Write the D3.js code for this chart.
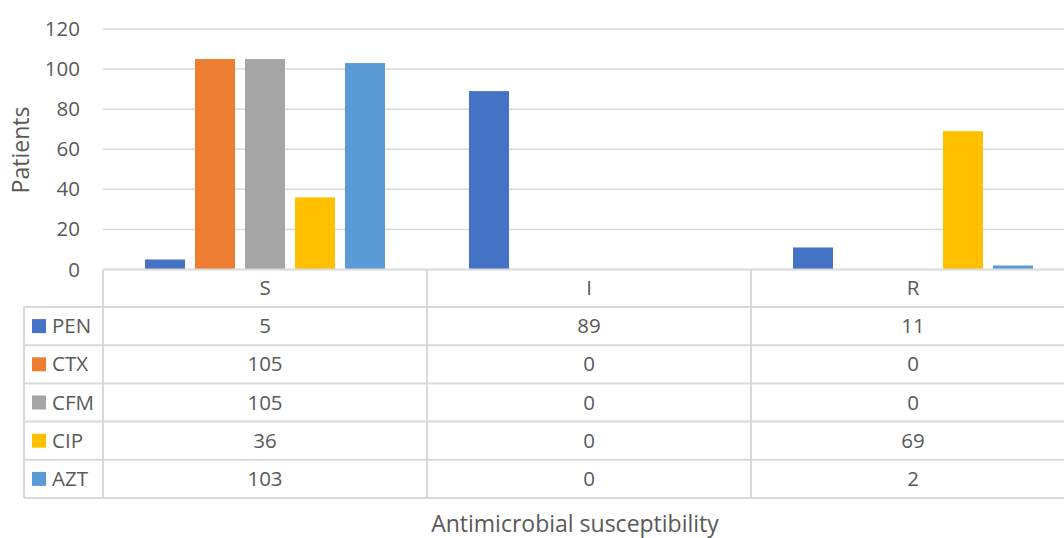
<!DOCTYPE html>
<html>
<head>
<meta charset="utf-8">
<script src="https://cdn.jsdelivr.net/npm/d3@7"></script>
<style>
  html, body { margin: 0; padding: 0; background: #fff; }
  svg { display: block; font-family: "Open Sans", sans-serif; }
</style>
</head>
<body>
<svg id="chart" width="1064" height="538"></svg>
<script>
// Susceptibility categories and antibiotic series
const categories = ["S", "I", "R"];
const seriesNames = ["PEN", "CTX", "CFM", "CIP", "AZT"];
const PEN = [5, 89, 11];
const CTX = [105, 0, 0];
const CFM = [105, 0, 0];
const CIP = [36, 0, 69];
const AZT = [103, 0, 2];
const yTicks = [0, 20, 40, 60, 80, 100, 120];
const seriesColors = ["#4472C4", "#ED7D31", "#A5A5A5", "#FFC000", "#5B9BD5"];

const seriesValues = [PEN, CTX, CFM, CIP, AZT];
const series = seriesNames.map((name, i) => ({ name, values: seriesValues[i], color: seriesColors[i] }));

const svg = d3.select("#chart");
const textColor = "#595959";
const lineColor = "#D9D9D9";
const fontSize = 20.5;

const plotLeft = 103, plotRight = 1075, plotTop = 29, plotBottom = 269.5;

const x = d3.scaleBand().domain(categories).range([plotLeft, plotRight]).padding(0);
const xInner = d3.scaleBand().domain(seriesNames).range([0, x.bandwidth()])
  .paddingInner(0.2).paddingOuter(0.84);
const y = d3.scaleLinear().domain([0, 120]).range([plotBottom, plotTop]);

// Horizontal gridlines
svg.append("g")
  .selectAll("line")
  .data(yTicks.filter(t => t > 0))
  .join("line")
  .attr("x1", plotLeft).attr("x2", plotRight)
  .attr("y1", d => y(d)).attr("y2", d => y(d))
  .attr("stroke", lineColor).attr("stroke-width", 1.5);

// Y axis tick labels
const yAxis = d3.axisLeft(y).tickValues(yTicks).tickSize(0).tickPadding(0);
const yg = svg.append("g").attr("transform", "translate(80,0)").call(yAxis);
yg.select(".domain").remove();
yg.selectAll("text")
  .attr("fill", textColor)
  .style("font-size", fontSize + "px")
  .style("font-family", "'Open Sans', sans-serif");

// Bars
const groups = svg.append("g").selectAll("g")
  .data(series)
  .join("g")
  .attr("fill", d => d.color);
groups.selectAll("rect")
  .data(d => d.values.map((v, i) => ({ name: d.name, cat: categories[i], v })))
  .join("rect")
  .filter(d => d.v > 0)
  .attr("x", d => x(d.cat) + xInner(d.name))
  .attr("width", xInner.bandwidth())
  .attr("y", d => y(d.v))
  .attr("height", d => y(0) - y(d.v));

// Data table under the plot
const headerTop = plotBottom, headerBottom = 307, rowH = 38.2;
const tableBottom = headerBottom + rowH * series.length;
const legendLeft = 24;
const tbl = svg.append("g");

// horizontal rules
tbl.append("line").attr("x1", plotLeft).attr("x2", plotRight)
  .attr("y1", headerTop).attr("y2", headerTop)
  .attr("stroke", lineColor).attr("stroke-width", 2);
d3.range(series.length + 1).forEach(i => {
  const yy = headerBottom + i * rowH;
  tbl.append("line").attr("x1", legendLeft).attr("x2", plotRight)
    .attr("y1", yy).attr("y2", yy)
    .attr("stroke", lineColor).attr("stroke-width", 2);
});
// vertical rules
tbl.append("line").attr("x1", legendLeft).attr("x2", legendLeft)
  .attr("y1", headerBottom).attr("y2", tableBottom)
  .attr("stroke", lineColor).attr("stroke-width", 2);
categories.forEach(c => {
  tbl.append("line").attr("x1", x(c)).attr("x2", x(c))
    .attr("y1", headerTop).attr("y2", tableBottom)
    .attr("stroke", lineColor).attr("stroke-width", 2);
});

// category headers
tbl.selectAll("text.cat")
  .data(categories)
  .join("text")
  .attr("class", "cat")
  .attr("x", d => x(d) + x.bandwidth() / 2)
  .attr("y", (headerTop + headerBottom) / 2)
  .attr("dy", "0.35em")
  .attr("text-anchor", "middle")
  .attr("fill", textColor)
  .style("font-size", fontSize + "px")
  .text(d => d);

// rows: legend key + values
series.forEach((s, i) => {
  const cy = headerBottom + i * rowH + rowH / 2;
  tbl.append("rect").attr("x", 32).attr("y", cy - 7).attr("width", 14).attr("height", 14)
    .attr("fill", s.color);
  tbl.append("text").attr("x", 52).attr("y", cy).attr("dy", "0.35em")
    .attr("fill", textColor).style("font-size", fontSize + "px").text(s.name);
  s.values.forEach((v, j) => {
    tbl.append("text")
      .attr("x", x(categories[j]) + x.bandwidth() / 2)
      .attr("y", cy).attr("dy", "0.35em")
      .attr("text-anchor", "middle")
      .attr("fill", textColor).style("font-size", fontSize + "px")
      .text(v);
  });
});

// Axis titles
svg.append("text")
  .attr("x", 575).attr("y", 532)
  .attr("text-anchor", "middle")
  .attr("fill", textColor).style("font-size", "23px")
  .text("Antimicrobial susceptibility");

svg.append("text")
  .attr("transform", "translate(29,150) rotate(-90)")
  .attr("text-anchor", "middle")
  .attr("fill", textColor).style("font-size", "23px")
  .text("Patients");
</script>
</body>
</html>
